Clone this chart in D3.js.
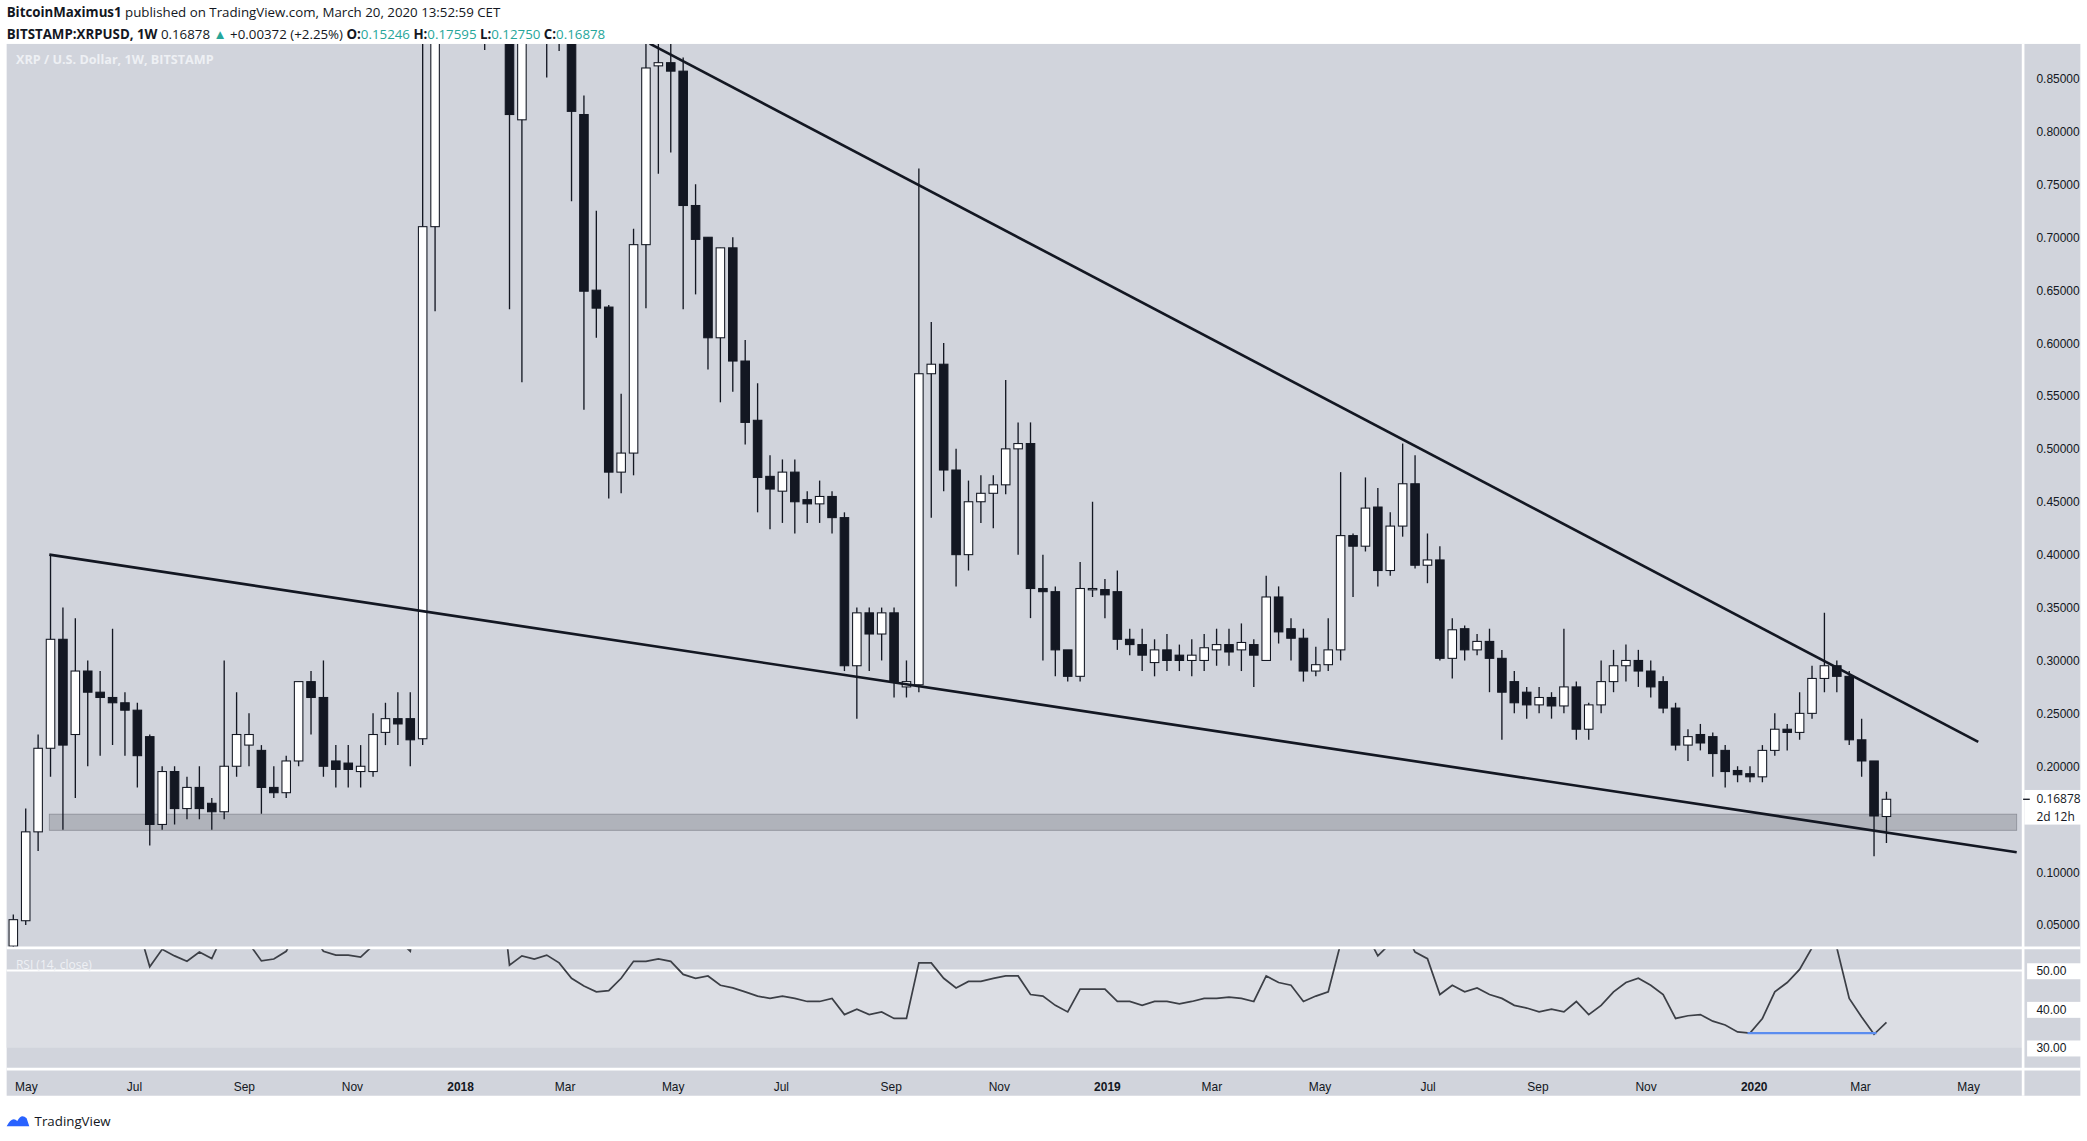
<!DOCTYPE html>
<html><head><meta charset="utf-8">
<script src="https://cdn.jsdelivr.net/npm/d3@7"></script>
<style>html,body{margin:0;padding:0;background:#fff;overflow:hidden}svg{display:block;font-family:"Open Sans",Roboto,sans-serif}</style>
</head><body>
<svg id="c" width="2087" height="1141" viewBox="0 0 1568 857" preserveAspectRatio="none"></svg>
<script>
// Weekly candles from the week of 24 Apr 2017
const opens  = [0.03,0.054,0.138,0.217,0.32,0.23,0.29,0.27,0.265,0.26,0.253,0.228,0.145,0.195,0.16,0.18,0.165,0.157,0.20,0.22,0.215,0.18,0.175,0.205,0.28,0.265,0.205,0.203,0.195,0.195,0.232,0.245,0.245,0.226,0.71,1.05,1.9,2.3,1.9,1.5,1.25,0.811,1.15,1.0,1.1,0.95,0.816,0.65,0.634,0.478,0.496,0.693,0.862,0.865,0.857,0.73,0.70,0.605,0.69,0.583,0.527,0.474,0.46,0.478,0.452,0.448,0.455,0.435,0.295,0.345,0.325,0.345,0.275,0.277,0.571,0.58,0.48,0.40,0.45,0.458,0.466,0.50,0.505,0.368,0.365,0.31,0.285,0.367,0.367,0.365,0.32,0.315,0.298,0.31,0.305,0.30,0.30,0.31,0.315,0.31,0.315,0.30,0.36,0.33,0.321,0.29,0.296,0.31,0.418,0.408,0.445,0.385,0.427,0.467,0.39,0.395,0.302,0.33,0.31,0.318,0.302,0.28,0.27,0.258,0.265,0.257,0.275,0.235,0.258,0.28,0.295,0.30,0.29,0.28,0.255,0.22,0.23,0.228,0.215,0.196,0.193,0.19,0.215,0.235,0.232,0.25,0.283,0.295,0.285,0.225,0.205,0.1525];
const highs  = [0.06,0.16,0.23,0.40,0.35,0.34,0.30,0.29,0.33,0.27,0.26,0.23,0.20,0.20,0.19,0.20,0.17,0.30,0.27,0.25,0.22,0.20,0.21,0.28,0.29,0.30,0.22,0.22,0.22,0.25,0.26,0.27,0.27,0.95,1.2,2.0,3.3,2.5,2.0,1.6,1.3,1.2,1.2,1.15,1.12,1.0,0.834,0.725,0.636,0.552,0.708,0.90,0.95,0.92,0.87,0.75,0.70,0.69,0.70,0.603,0.562,0.494,0.49,0.49,0.46,0.47,0.46,0.44,0.35,0.35,0.35,0.35,0.30,0.765,0.62,0.60,0.50,0.47,0.475,0.475,0.565,0.525,0.525,0.40,0.37,0.31,0.393,0.45,0.377,0.385,0.33,0.33,0.32,0.325,0.315,0.32,0.325,0.33,0.33,0.335,0.32,0.38,0.37,0.34,0.33,0.313,0.34,0.478,0.42,0.473,0.463,0.44,0.505,0.494,0.42,0.408,0.34,0.333,0.325,0.33,0.31,0.29,0.275,0.275,0.27,0.33,0.28,0.26,0.30,0.31,0.315,0.31,0.30,0.285,0.26,0.235,0.24,0.232,0.22,0.20,0.20,0.22,0.25,0.24,0.27,0.295,0.345,0.30,0.29,0.245,0.205,0.176];
const lows   = [0.025,0.05,0.12,0.19,0.14,0.17,0.20,0.21,0.22,0.21,0.18,0.125,0.14,0.145,0.15,0.15,0.14,0.15,0.19,0.20,0.155,0.17,0.17,0.20,0.23,0.19,0.18,0.18,0.18,0.19,0.22,0.22,0.20,0.22,0.63,0.98,1.8,1.6,0.877,0.95,0.632,0.563,0.92,0.851,0.876,0.734,0.537,0.605,0.453,0.458,0.475,0.633,0.76,0.78,0.632,0.646,0.575,0.544,0.554,0.504,0.44,0.424,0.43,0.42,0.43,0.43,0.42,0.29,0.245,0.29,0.30,0.265,0.265,0.27,0.435,0.46,0.37,0.385,0.43,0.425,0.457,0.40,0.34,0.30,0.285,0.28,0.28,0.36,0.34,0.31,0.305,0.29,0.285,0.29,0.29,0.285,0.29,0.295,0.295,0.29,0.275,0.30,0.316,0.30,0.28,0.285,0.29,0.30,0.36,0.403,0.37,0.38,0.417,0.387,0.373,0.30,0.283,0.30,0.305,0.27,0.225,0.25,0.245,0.25,0.245,0.25,0.225,0.225,0.25,0.27,0.28,0.275,0.265,0.25,0.215,0.205,0.215,0.19,0.18,0.185,0.185,0.185,0.21,0.215,0.225,0.245,0.27,0.27,0.22,0.19,0.115,0.1275];
const closes = [0.055,0.138,0.217,0.32,0.22,0.29,0.27,0.265,0.26,0.253,0.21,0.145,0.195,0.16,0.18,0.16,0.157,0.20,0.23,0.23,0.18,0.175,0.205,0.28,0.265,0.20,0.197,0.197,0.20,0.23,0.245,0.24,0.225,0.71,1.05,1.9,2.3,1.9,1.5,1.25,0.816,1.15,1.0,1.1,0.95,0.819,0.649,0.633,0.478,0.496,0.693,0.86,0.865,0.857,0.73,0.698,0.605,0.69,0.583,0.525,0.473,0.462,0.478,0.45,0.448,0.455,0.435,0.295,0.345,0.325,0.345,0.28,0.28,0.571,0.58,0.48,0.40,0.45,0.458,0.466,0.50,0.505,0.368,0.365,0.31,0.285,0.368,0.368,0.362,0.32,0.315,0.305,0.31,0.30,0.30,0.305,0.312,0.315,0.308,0.317,0.305,0.36,0.327,0.321,0.29,0.296,0.31,0.418,0.408,0.444,0.385,0.427,0.467,0.39,0.395,0.302,0.329,0.31,0.318,0.302,0.27,0.26,0.258,0.265,0.257,0.275,0.235,0.258,0.28,0.295,0.30,0.29,0.275,0.255,0.22,0.228,0.222,0.212,0.195,0.192,0.19,0.215,0.235,0.232,0.25,0.283,0.295,0.285,0.225,0.205,0.153,0.16878];
const rsi = [85,90,93,95,88,85,80,75,72,70,62,51,55.5,53.8,52.4,54.8,53.1,60,62,57,52.5,53,55,61,60,55,54,54,53.5,56.5,58,58,55,80,88,92,94,90,85,80,51.4,53.8,53,54,52,48,46,44.5,44.8,48,52.4,52.4,53,52.4,49,48,48.6,46.2,45.5,44.5,43.4,42.8,43.4,42.8,42,42,42.8,38.6,40,38.6,39.3,37.6,37.6,52,52,48,45.5,47.2,47.2,48,48.6,48.6,43.8,43.4,41,39.3,45.2,45.2,45.2,42,42,41,42,42,41.4,42,42.8,42.8,43.1,42.8,42,48.6,46.9,46.2,42,43.4,44.5,57,58,60,53.8,57,61,54.8,53.1,43.8,46.2,44.5,45.5,43.8,42.8,41,40.3,39.3,40,39.3,42,38.6,41,44.5,46.9,48,46.2,43.8,37.6,38.3,38.6,36.9,35.9,34.1,33.8,37.6,44.5,46.9,50.3,55.9,58,55.9,42.8,38,33.5,36.6];
const priceTicks = [0.05,0.10,0.20,0.25,0.30,0.35,0.40,0.45,0.50,0.55,0.60,0.65,0.70,0.75,0.80,0.85];
const rsiTicks = [30,40,50];
const monthTicks = [["2017-05-01","May"],["2017-07-01","Jul"],["2017-09-01","Sep"],["2017-11-01","Nov"],["2018-01-01","2018"],["2018-03-01","Mar"],["2018-05-01","May"],["2018-07-01","Jul"],["2018-09-01","Sep"],["2018-11-01","Nov"],["2019-01-01","2019"],["2019-03-01","Mar"],["2019-05-01","May"],["2019-07-01","Jul"],["2019-09-01","Sep"],["2019-11-01","Nov"],["2020-01-01","2020"],["2020-03-01","Mar"],["2020-05-01","May"]];
// drawn trend lines / zone as [weekIndex, price]
const upperLine = [[51.3,0.883],[158.4,0.223]];
const lowerLine = [[2.9,0.40],[161.5,0.1187]];
const zone = [[2.9,0.1547],[161.5,0.1395]];
const rsiSupport = [[139.8,33.8],[150.2,33.8]];

const svg = d3.select("#c");
const L=5,R=1520,T=33,B=711,RT=712,RB=803;
const start = new Date(2017,3,24);
const day = 864e5;
const x = d3.scaleTime().domain([start,new Date(+start+1000*day)]).range([10,10+9.32*1000/7]);
const xi = i => x(new Date(+start+i*7*day));
const y = d3.scaleLinear().domain([0.10,0.85]).range([655,59]);
const yr = d3.scaleLinear().domain([30,50]).range([787,729]);
const bg="#d1d4dc";
svg.append("rect").attr("x",L).attr("y",T).attr("width",1563-L).attr("height",823-T).attr("fill",bg);
svg.append("rect").attr("x",L).attr("y",yr(50)).attr("width",R-L).attr("height",yr(30)-yr(50)).attr("fill","#dcdee4");
svg.append("line").attr("x1",L).attr("x2",R).attr("y1",yr(50)).attr("y2",yr(50)).attr("stroke","#fff").attr("stroke-width",1.5);
svg.append("line").attr("x1",L).attr("x2",1563).attr("y1",RT).attr("y2",RT).attr("stroke","#fff").attr("stroke-width",2);
svg.append("line").attr("x1",L).attr("x2",1563).attr("y1",RB).attr("y2",RB).attr("stroke","#fff").attr("stroke-width",2);
svg.append("line").attr("x1",R).attr("x2",R).attr("y1",T).attr("y2",823).attr("stroke","#fff").attr("stroke-width",2);
const defs=svg.append("defs");
defs.append("clipPath").attr("id","cm").append("rect").attr("x",L).attr("y",T).attr("width",R-L).attr("height",B-T);
defs.append("clipPath").attr("id","cr").append("rect").attr("x",L).attr("y",RT+1).attr("width",R-L).attr("height",RB-RT-2);
const g = svg.append("g").attr("clip-path","url(#cm)");
g.append("rect").attr("x",xi(zone[0][0])).attr("y",y(zone[0][1])).attr("width",xi(zone[1][0])-xi(zone[0][0])).attr("height",y(zone[1][1])-y(zone[0][1])).attr("fill","#9598a1").attr("fill-opacity",0.55).attr("stroke","#8a8d96").attr("stroke-width",0.6);
const ink="#131722";
opens.forEach((o,i)=>{
  const cx=xi(i), up=closes[i]>=o;
  g.append("line").attr("x1",cx).attr("x2",cx).attr("y1",y(highs[i])).attr("y2",y(lows[i])).attr("stroke",ink).attr("stroke-width",1);
  const top=y(Math.max(o,closes[i])), bot=y(Math.min(o,closes[i]));
  g.append("rect").attr("x",cx-3.2).attr("y",top).attr("width",6.4).attr("height",Math.max(1,bot-top)).attr("fill",up?"#fff":ink).attr("stroke",ink).attr("stroke-width",0.8);
});
const ln=d3.line().x(d=>xi(d[0])).y(d=>y(d[1]));
g.append("path").attr("d",ln(upperLine)).attr("stroke",ink).attr("stroke-width",2).attr("fill","none");
g.append("path").attr("d",ln(lowerLine)).attr("stroke",ink).attr("stroke-width",2).attr("fill","none");
const gr=svg.append("g").attr("clip-path","url(#cr)");
gr.append("path").attr("d",d3.line().x((d,i)=>xi(i)).y(d=>yr(d))(rsi)).attr("stroke","#3c3f46").attr("stroke-width",1.3).attr("fill","none");
gr.append("path").attr("d",d3.line().x(d=>xi(d[0])).y(d=>yr(d[1]))(rsiSupport)).attr("stroke","#5b8def").attr("stroke-width",1.6).attr("fill","none");
const fs=9;
const ya=svg.append("g").attr("transform",`translate(${R},0)`).call(d3.axisRight(y).tickValues(priceTicks).tickFormat(d3.format(".5f")).tickSize(0).tickPadding(10));
ya.select(".domain").remove();
ya.selectAll("text").attr("font-size",fs).attr("fill","#131722");
const ra=svg.append("g").attr("transform",`translate(${R},0)`).call(d3.axisRight(yr).tickValues(rsiTicks).tickFormat(d3.format(".2f")).tickSize(0).tickPadding(10));
ra.select(".domain").remove();
ra.selectAll("text").attr("font-size",fs).attr("fill","#131722");
ra.selectAll(".tick").insert("rect","text").attr("x",3).attr("y",-6).attr("width",44).attr("height",12).attr("fill","#fff");
const xa=svg.append("g").attr("transform",`translate(0,${RB+4})`).call(d3.axisBottom(x).tickValues(monthTicks.map(d=>new Date(d[0]+"T00:00:00"))).tickFormat((d,i)=>monthTicks[i][1]).tickSize(0).tickPadding(6));
xa.select(".domain").remove();
xa.selectAll("text").attr("font-size",fs).attr("fill","#131722").attr("font-weight",(d,i)=>/^\d/.test(monthTicks[i][1])?"bold":"normal");
const lp=closes[closes.length-1];
svg.append("rect").attr("x",R+1).attr("y",y(lp)-7).attr("width",46).attr("height",26).attr("fill","#fff");
svg.append("line").attr("x1",R).attr("x2",R+5).attr("y1",y(lp)).attr("y2",y(lp)).attr("stroke",ink);
svg.append("text").attr("x",R+10).attr("y",y(lp)+3).attr("font-size",fs).attr("fill",ink).text(d3.format(".5f")(lp));
svg.append("text").attr("x",R+10).attr("y",y(lp)+16).attr("font-size",fs).attr("fill",ink).text("2d 12h");
const h1=svg.append("text").attr("x",5).attr("y",13).attr("font-size",10).attr("fill","#131722");
h1.append("tspan").attr("font-weight","bold").text("BitcoinMaximus1");
h1.append("tspan").text(" published on TradingView.com, March 20, 2020 13:52:59 CET");
const h2=svg.append("text").attr("x",5).attr("y",29).attr("font-size",10).attr("fill","#131722");
h2.append("tspan").attr("font-weight","bold").text("BITSTAMP:XRPUSD, 1W");
h2.append("tspan").text("  0.16878 ");
h2.append("tspan").attr("fill","#26a69a").text("▲");
h2.append("tspan").text(" +0.00372 (+2.25%) ");
[["O:","0.15246"],["H:","0.17595"],["L:","0.12750"],["C:","0.16878"]].forEach(([k,v])=>{h2.append("tspan").attr("font-weight","bold").text(k);h2.append("tspan").attr("fill","#26a69a").text(v+" ");});
svg.append("text").attr("x",12).attr("y",48).attr("font-size",9.5).attr("font-weight","bold").attr("fill","#eef0f4").text("XRP / U.S. Dollar, 1W, BITSTAMP");
svg.append("text").attr("x",12).attr("y",728).attr("font-size",9).attr("fill","#eef0f4").text("RSI (14, close)");
const lg=svg.append("g").attr("transform","translate(5,836)");
lg.append("path").attr("d","M0 10 Q4 2 8 6 Q11 0 15 4 L17 10 Z").attr("fill","#2962ff");
lg.append("text").attr("x",21).attr("y",10).attr("font-size",10).attr("fill","#131722").text("TradingView");
</script>
</body></html>
